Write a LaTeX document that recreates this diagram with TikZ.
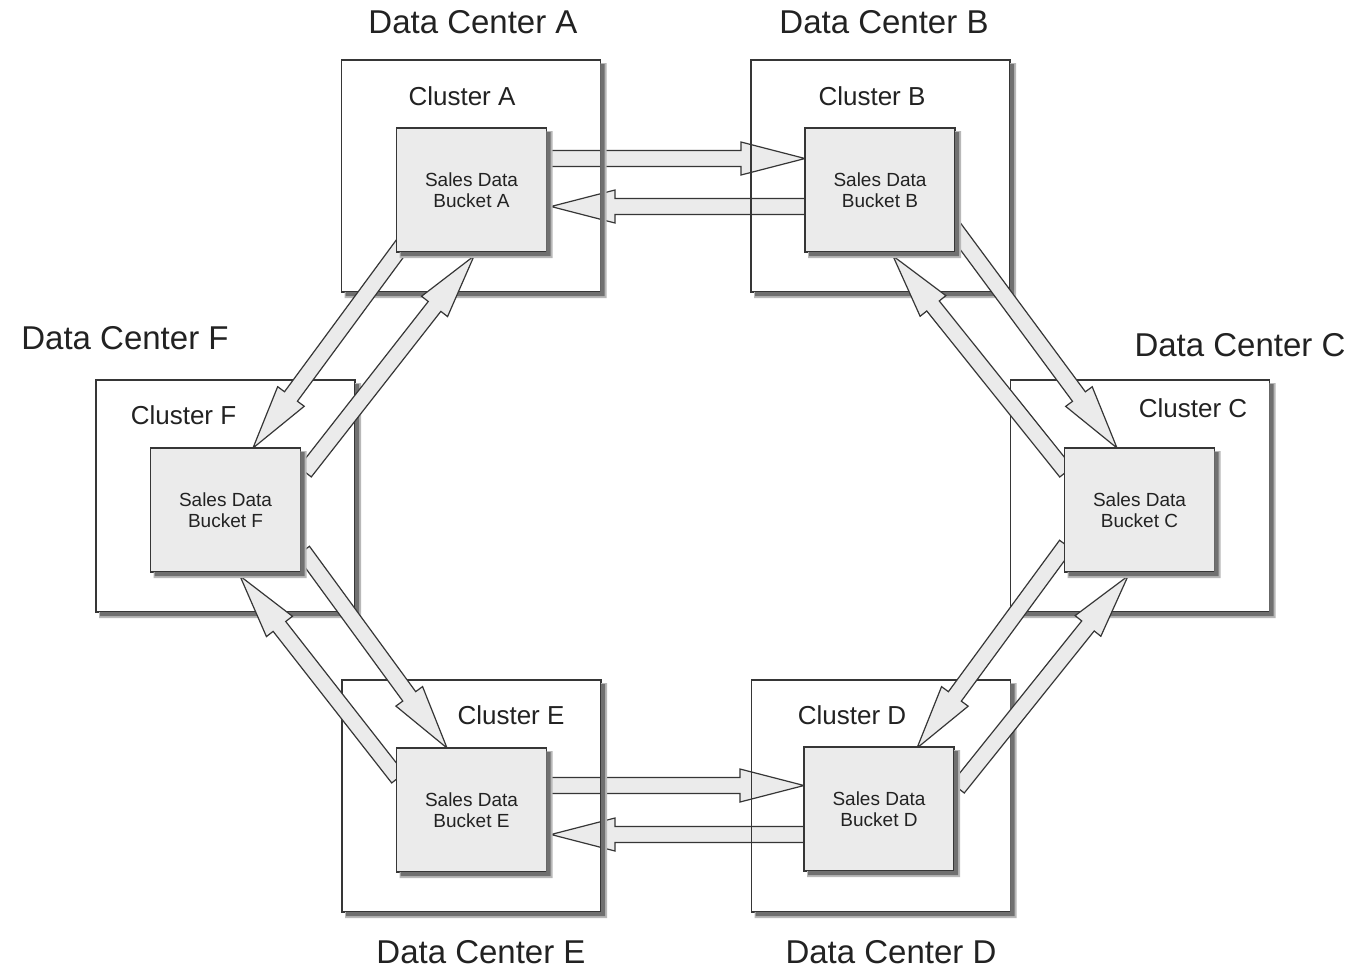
\documentclass[tikz,border=0pt]{standalone}
\usepackage{fontspec}
\setmainfont{Liberation Sans}
\usetikzlibrary{calc}
\definecolor{edge}{HTML}{363636}
\definecolor{boxfill}{HTML}{EBEBEB}
\definecolor{txt}{HTML}{222222}
\definecolor{shdark}{HTML}{707070}
\definecolor{shlight}{HTML}{B8B8B8}
\tikzset{
  cluster/.style={draw=edge, line width=0.8pt, minimum width=129.5pt, minimum height=116pt, inner sep=0pt, outer sep=0pt},
  bucket/.style={draw=edge, fill=boxfill, line width=0.8pt, minimum width=75pt, minimum height=62pt, inner sep=0pt, outer sep=0pt, font=\fontsize{9.5}{10.5}\selectfont, align=center, text=txt},
  dclabel/.style={font=\fontsize{16.5}{19}\selectfont, text=txt, inner sep=0pt},
  cllabel/.style={font=\fontsize{13}{15}\selectfont, text=txt, inner sep=0pt},
  blockarr/.style={draw=edge, fill=boxfill, line width=0.6pt, line join=miter},
}
\newcommand\blockarrow[2]{%
  \coordinate (ba-s) at (#1);
  \coordinate (ba-t) at (#2);
  \coordinate (ba-h) at ($(ba-t)!32pt!(ba-s)$);
  \filldraw[blockarr] ($(ba-s)!4pt!90:(ba-t)$) -- ($(ba-h)!4pt!-90:(ba-s)$) -- ($(ba-h)!8.25pt!-90:(ba-s)$) -- (ba-t) -- ($(ba-h)!8.25pt!90:(ba-s)$) -- ($(ba-h)!4pt!90:(ba-s)$) -- ($(ba-s)!4pt!-90:(ba-t)$) -- cycle;
}
\newcommand\shadowL[1]{%
  \fill[shlight] ($(#1.north east)+(0pt,-1.5pt)$) -- ($(#1.north east)+(3pt,-1.5pt)$) -- ($(#1.south east)+(3pt,-3pt)$) -- ($(#1.south west)+(1.5pt,-3pt)$) -- ($(#1.south west)+(1.5pt,0pt)$) -- (#1.south east) -- cycle;
  \fill[shdark] ($(#1.north east)+(0pt,-2pt)$) -- ($(#1.north east)+(2pt,-2pt)$) -- ($(#1.south east)+(2pt,-2pt)$) -- ($(#1.south west)+(2pt,-2pt)$) -- ($(#1.south west)+(2pt,0pt)$) -- (#1.south east) -- cycle;
}
\begin{document}
\begin{tikzpicture}[x=0.5pt,y=-0.5pt]
\useasboundingbox[fill=white] (0,0) rectangle (1355,971);

% arrow end points
\coordinate (ab-t) at (546,158.5);  \coordinate (ab-p) at (805,158.5);
\coordinate (ba-t0) at (805,206.5); \coordinate (ba-p) at (551,206.5);
\coordinate (ed-t) at (547,785.5);  \coordinate (ed-p) at (804,785.5);
\coordinate (de-t) at (804,834.5);  \coordinate (de-p) at (551,834.5);
\coordinate (af-t) at (404,243);    \coordinate (af-p) at (253,448);
\coordinate (fa-t) at (305,472);    \coordinate (fa-p) at (474,256);
\coordinate (bc-t) at (952,225);    \coordinate (bc-p) at (1117,448);
\coordinate (cb-t) at (1066,472);   \coordinate (cb-p) at (893,256);
\coordinate (cd-t) at (1066,545);   \coordinate (cd-p) at (917,748);
\coordinate (dc-t) at (958,788);    \coordinate (dc-p) at (1128,576);
\coordinate (fe-t) at (303,551);    \coordinate (fe-p) at (447,748);
\coordinate (ef-t) at (398,778);    \coordinate (ef-p) at (240,576);

% horizontal arrows (behind the cluster frames)
\blockarrow{ab-t}{ab-p}
\blockarrow{ba-t0}{ba-p}
\blockarrow{ed-t}{ed-p}
\blockarrow{de-t}{de-p}

% clusters
\node[cluster] (cA) at (471,176) {};
\node[cluster] (cB) at (880.5,176) {};
\node[cluster] (cF) at (225.5,496) {};
\node[cluster] (cC) at (1140,496) {};
\node[cluster] (cE) at (471.5,796) {};
\node[cluster] (cD) at (881,796) {};
\shadowL{cA}\shadowL{cB}\shadowL{cF}\shadowL{cC}\shadowL{cE}\shadowL{cD}

% labels
\node[dclabel] (dA) at (473,22) {Data Center A};
\node[dclabel] (dB) at (884,22) {Data Center B};
\node[dclabel] (dF) at (125,338) {Data Center F};
\node[dclabel] (dC) at (1240,345) {Data Center C};
\node[dclabel] (dE) at (481,952) {Data Center E};
\node[dclabel] (dD) at (891,952) {Data Center D};
\node[cllabel] (lA) at (462,96) {Cluster A};
\node[cllabel] (lB) at (872,96) {Cluster B};
\node[cllabel] (lF) at (183.5,415) {Cluster F};
\node[cllabel] (lC) at (1193,408) {Cluster C};
\node[cllabel] (lE) at (511,715) {Cluster E};
\node[cllabel] (lD) at (852,715) {Cluster D};

% diagonal arrows (over the cluster frames)
\blockarrow{af-t}{af-p}
\blockarrow{fa-t}{fa-p}
\blockarrow{bc-t}{bc-p}
\blockarrow{cb-t}{cb-p}
\blockarrow{cd-t}{cd-p}
\blockarrow{dc-t}{dc-p}
\blockarrow{fe-t}{fe-p}
\blockarrow{ef-t}{ef-p}

% buckets
\node[bucket] (bA) at (471.5,190) {Sales Data\\Bucket A};
\node[bucket] (bB) at (880,190) {Sales Data\\Bucket B};
\node[bucket] (bF) at (225.5,510) {Sales Data\\Bucket F};
\node[bucket] (bC) at (1139.5,510) {Sales Data\\Bucket C};
\node[bucket] (bE) at (471.5,810) {Sales Data\\Bucket E};
\node[bucket] (bD) at (879,809) {Sales Data\\Bucket D};
\shadowL{bA}\shadowL{bB}\shadowL{bF}\shadowL{bC}\shadowL{bE}\shadowL{bD}
\end{tikzpicture}
\end{document}
